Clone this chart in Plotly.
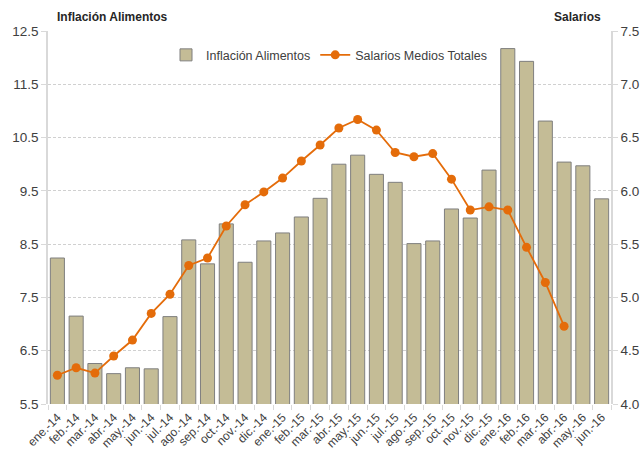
import plotly.graph_objects as go

meses = ["ene.-14", "feb.-14", "mar.-14", "abr.-14", "may.-14", "jun.-14",
         "jul.-14", "ago.-14", "sep.-14", "oct.-14", "nov.-14", "dic.-14",
         "ene.-15", "feb.-15", "mar.-15", "abr.-15", "may.-15", "jun.-15",
         "jul.-15", "ago.-15", "sep.-15", "oct.-15", "nov.-15", "dic.-15",
         "ene.-16", "feb.-16", "mar.-16", "abr.-16", "may.-16", "jun.-16"]

inflacion_alimentos = [8.24, 7.15, 6.26, 6.07, 6.18, 6.16,
                       7.14, 8.58, 8.13, 8.88, 8.16, 8.56,
                       8.71, 9.01, 9.36, 10.00, 10.17, 9.81,
                       9.66, 8.51, 8.56, 9.16, 8.99, 9.89,
                       12.17, 11.93, 10.81, 10.04, 9.97, 9.35]

salarios_medios = [4.27, 4.34, 4.29, 4.45, 4.60, 4.85,
                   5.03, 5.30, 5.37, 5.67, 5.87, 5.99,
                   6.12, 6.28, 6.43, 6.59, 6.67, 6.57,
                   6.36, 6.32, 6.35, 6.11, 5.82, 5.85,
                   5.82, 5.47, 5.14, 4.73, None, None]

ticks_izq = [5.5, 6.5, 7.5, 8.5, 9.5, 10.5, 11.5, 12.5]
ticks_der = [4.0, 4.5, 5.0, 5.5, 6.0, 6.5, 7.0, 7.5]

FONT = "Liberation Sans, Arial, sans-serif"

fig = go.Figure()
fig.add_trace(go.Bar(
    x=meses, y=inflacion_alimentos, name="Inflación Alimentos",
    marker=dict(color="#C4BC96", line=dict(color="#7F7F7F", width=1)),
    yaxis="y",
))
fig.add_trace(go.Scatter(
    x=meses, y=salarios_medios, name="Salarios Medios Totales",
    mode="lines+markers",
    line=dict(color="#E46C0A", width=1.8),
    marker=dict(color="#E46C0A", size=9),
    yaxis="y2",
))

fig.update_layout(
    width=642, height=452,
    margin=dict(l=48, r=31, t=31, b=48),
    paper_bgcolor="white", plot_bgcolor="white",
    font=dict(family=FONT, size=13, color="#404040"),
    bargap=0.25,
    showlegend=True,
    legend=dict(orientation="h", x=0.5, xanchor="center", y=0.935, yanchor="middle",
                font=dict(size=12.5, color="#404040"), bgcolor="rgba(0,0,0,0)",
                itemwidth=30, traceorder="normal"),
    xaxis=dict(
        type="category", range=[-0.5, len(meses) - 0.5],
        tickangle=-45, tickfont=dict(size=12, color="#404040"),
        ticklabelstandoff=3,
        showgrid=False, showline=False, ticks="outside", ticklen=5,
        tickcolor="#D9D9D9", tickson="boundaries", automargin=False,
    ),
    yaxis=dict(
        range=[5.5, 12.5], tickvals=ticks_izq, ticktext=[f"{v:.1f}" for v in ticks_izq],
        showgrid=True, gridcolor="#D0D0D0", griddash="3px,2px", gridwidth=1,
        showline=True, linecolor="#D9D9D9", linewidth=1.5,
        ticks="outside", ticklen=5, tickcolor="#D9D9D9",
        zeroline=False, tickfont=dict(size=13.5, color="#404040"), automargin=False,
    ),
    yaxis2=dict(
        range=[4.0, 7.5], tickvals=ticks_der, ticktext=[f"{v:.1f}" for v in ticks_der],
        overlaying="y", side="right", showgrid=False,
        showline=True, linecolor="#D9D9D9", linewidth=1.5,
        ticks="outside", ticklen=5, tickcolor="#D9D9D9",
        zeroline=False, tickfont=dict(size=13.5, color="#404040"), automargin=False,
    ),
)

# axis titles, placed above each y axis
fig.add_annotation(text="<b>Inflación Alimentos</b>", xref="paper", yref="paper",
                   x=(55 - 48) / 563, y=1 + (31 - 17) / 373, xanchor="left", yanchor="middle",
                   showarrow=False, font=dict(size=12, color="#262626"))
fig.add_annotation(text="<b>Salarios</b>", xref="paper", yref="paper",
                   x=(603 - 48) / 563, y=1 + (31 - 17) / 373, xanchor="right", yanchor="middle",
                   showarrow=False, font=dict(size=12, color="#262626"))

fig.write_html("out.html")
